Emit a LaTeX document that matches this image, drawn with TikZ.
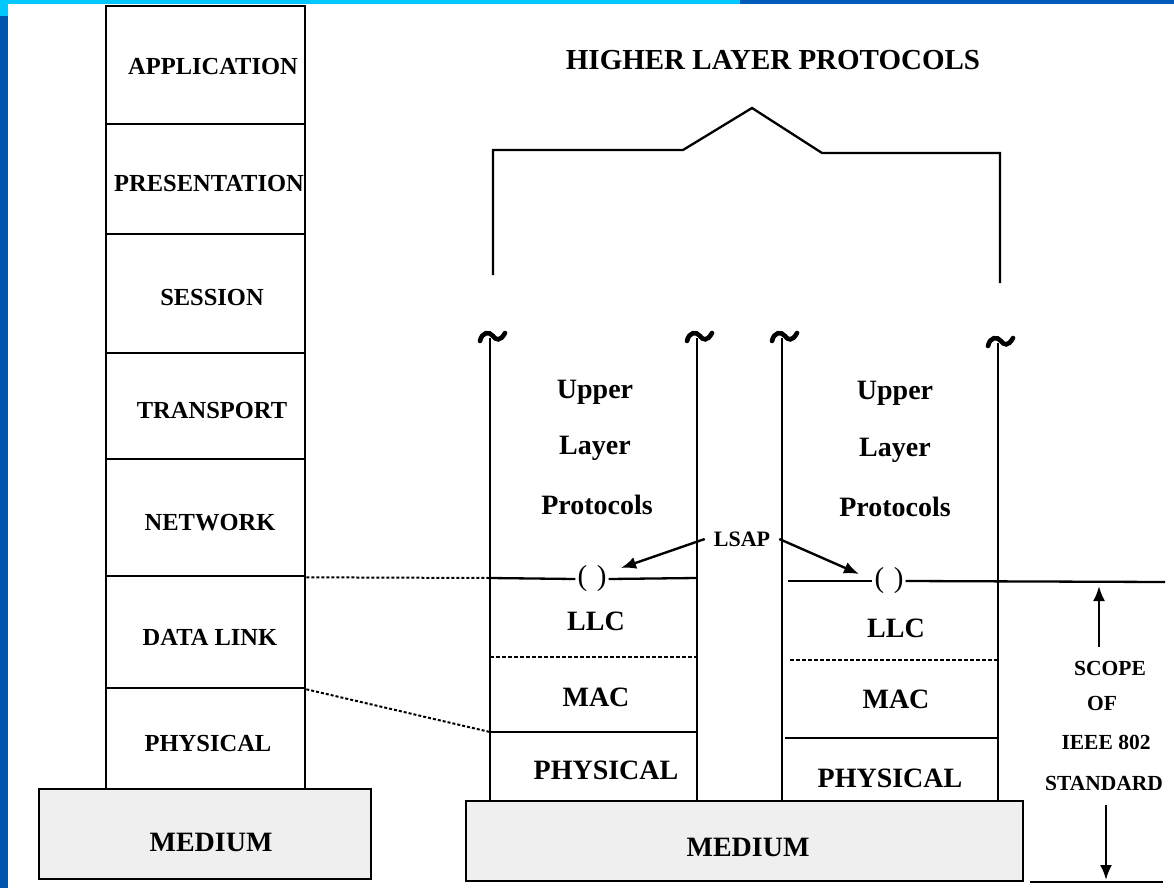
\documentclass[tikz,border=0pt]{standalone}
\usepackage{fontspec}
\setmainfont{Liberation Serif}
\usetikzlibrary{arrows.meta}
\definecolor{barcyan}{HTML}{00C8FF}
\definecolor{bardark}{HTML}{005CB8}
\definecolor{stripblue}{HTML}{0056AE}
\definecolor{medfill}{HTML}{EFEFEF}
\begin{document}
\begin{tikzpicture}[x=1pt,y=-1pt,line width=2.3pt,
  osibox/.style={draw,minimum width=199pt,inner sep=0,anchor=north west},
  ositext/.style={font=\fontsize{24.5}{28}\selectfont\bfseries,inner sep=0},
  bigtext/.style={font=\fontsize{28}{32}\selectfont\bfseries,inner sep=0},
  smalltext/.style={font=\fontsize{21.5}{24}\selectfont\bfseries,inner sep=0},
  medbox/.style={draw,fill=medfill,inner sep=0},
  paren/.style={font=\fontsize{29}{32}\selectfont,inner sep=1pt},
  dotline/.style={line width=2pt,dash pattern=on 3pt off 2pt},
  dashline/.style={line width=2.3pt,dash pattern=on 4pt off 2pt},
  arr/.style={-{Latex[length=15pt,width=12pt]},line width=2.4pt},
  tildemark/.pic={\draw[line width=4.6pt,line cap=round] (-10,3) .. controls (-8,-6) and (-1,-7) .. (3,-2) .. controls (6,2) and (10,4) .. (15,-5);}
]
\useasboundingbox (0,0) rectangle (1174,888);
\fill[white] (0,0) rectangle (1174,888);
% frame decoration
\fill[stripblue] (0,0) rectangle (8,888);
\fill[barcyan] (0,0) rectangle (740,4);
\fill[barcyan] (0,0) rectangle (8,16);
\fill[bardark] (740,0) rectangle (1174,4);

% ---- OSI stack ----
\node[osibox,minimum height=118pt] (app) at (105,5) {};
\node[osibox,minimum height=110pt] (pres) at (105,123) {};
\node[osibox,minimum height=119pt] (sess) at (105,233) {};
\node[osibox,minimum height=106pt] (trans) at (105,352) {};
\node[osibox,minimum height=117pt] (net) at (105,458) {};
\node[osibox,minimum height=112pt] (dl) at (105,575) {};
\node[osibox,minimum height=101pt] (phys) at (105,687) {};
\node[ositext] (tapp) at (213,67) {APPLICATION};
\node[ositext] (tpres) at (209,184) {PRESENTATION};
\node[ositext] (tsess) at (212,298) {SESSION};
\node[ositext] (ttrans) at (212,411) {TRANSPORT};
\node[ositext] (tnet) at (210,523) {NETWORK};
\node[ositext] (tdl) at (210,637) {DATA LINK};
\node[ositext] (tphys) at (208,743) {PHYSICAL};
\node[medbox,minimum width=332pt,minimum height=90pt,anchor=north west] (med1) at (38,788) {};
\node[bigtext] (tmed1) at (211,842) {MEDIUM};

% ---- higher layer bracket ----
\node[font=\fontsize{29}{32}\selectfont\bfseries,inner sep=0] (hlp) at (773,60) {HIGHER LAYER PROTOCOLS};
\coordinate (bl) at (493,275);
\coordinate (blt) at (493,150);
\coordinate (bpl) at (683,150);
\coordinate (bpk) at (752,108);
\coordinate (bpr) at (822,153);
\coordinate (brt) at (1000,153);
\coordinate (br) at (1000,283);
\draw[line join=miter] (bl) -- (blt) -- (bpl) -- (bpk) -- (bpr) -- (brt) -- (br);

% ---- right medium ----
\node[medbox,minimum width=557pt,minimum height=80pt,anchor=north west] (med2) at (465,800) {};
\node[bigtext] (tmed2) at (748,847) {MEDIUM};

% ---- station A ----
\coordinate (aLt) at (490,338);
\coordinate (aLb) at (490,800);
\coordinate (aRt) at (697,338);
\coordinate (aRb) at (697,800);
\draw (aLt) -- (aLb);
\draw (aRt) -- (aRb);
\pic at (aLt) {tildemark};
\pic at (aRt) {tildemark};
\node[bigtext] (aup) at (595,392) {Upper};
\node[bigtext] (alay) at (595,448) {Layer};
\node[bigtext] (apro) at (597,505) {Protocols};
\node[paren] (pA) at (592,579) {(\,\,)};
\coordinate (aS1) at (490,578);
\coordinate (aS2) at (697,578);
\draw (aS1) -- (pA.west);
\draw (pA.east) -- (aS2);
\node[bigtext] (allc) at (596,621) {LLC};
\coordinate (aD1) at (490,657);
\coordinate (aD2) at (697,657);
\draw[dashline] (aD1) -- (aD2);
\node[bigtext] (amac) at (596,697) {MAC};
\coordinate (aP1) at (490,732);
\coordinate (aP2) at (697,732);
\draw (aP1) -- (aP2);
\node[bigtext] (aphy) at (606,770) {PHYSICAL};

% ---- station B ----
\coordinate (bLt) at (782,338);
\coordinate (bLb) at (782,802);
\coordinate (bRt) at (998,343);
\coordinate (bRb) at (998,802);
\draw (bLt) -- (bLb);
\draw (bRt) -- (bRb);
\pic at (bLt) {tildemark};
\pic at (bRt) {tildemark};
\node[bigtext] (bup) at (895,393) {Upper};
\node[bigtext] (blay) at (895,450) {Layer};
\node[bigtext] (bpro) at (895,507) {Protocols};
\node[paren] (pB) at (889,581) {(\,\,)};
\coordinate (bS1) at (788,581);
\coordinate (bS2) at (1165,582);
\draw (bS1) -- (pB.west);
\draw (pB.east) -- (bS2);
\node[bigtext] (bllc) at (896,628) {LLC};
\coordinate (bD1) at (790,660);
\coordinate (bD2) at (998,660);
\draw[dashline] (bD1) -- (bD2);
\node[bigtext] (bmac) at (896,699) {MAC};
\coordinate (bP1) at (785,738);
\coordinate (bP2) at (998,738);
\draw (bP1) -- (bP2);
\node[bigtext] (bphy) at (890,778) {PHYSICAL};

% ---- LSAP ----
\node[font=\fontsize{22}{24}\selectfont\bfseries,inner ysep=1pt,inner xsep=8pt] (lsap) at (742,539) {LSAP};
\coordinate (tipA) at (621,568);
\coordinate (tipB) at (859,574);
\draw[arr] (lsap.west) -- (tipA);
\draw[arr] (lsap.east) -- (tipB);

% ---- OSI mapping lines ----
\draw[dotline] (net.south east) -- (aS1);
\draw[dotline] (dl.south east) -- (aP1);

% ---- scope ----
\node[smalltext] (sc1) at (1110,668) {SCOPE};
\node[smalltext] (sc2) at (1102,703) {OF};
\node[smalltext] (sc3) at (1106,742) {IEEE 802};
\node[smalltext] (sc4) at (1104,783) {STANDARD};
\coordinate (scTop) at (1099,586);
\coordinate (scBot) at (1106,880);
\draw[arr] (sc1.north -| scTop) ++(0,-13) -- (scTop);
\coordinate (sbl1) at (1030,882);
\coordinate (sbl2) at (1163,882);
\draw (sbl1) -- (sbl2);
\draw[arr] (sc4.south -| scBot) ++(0,14) -- (scBot);
\end{tikzpicture}
\end{document}
